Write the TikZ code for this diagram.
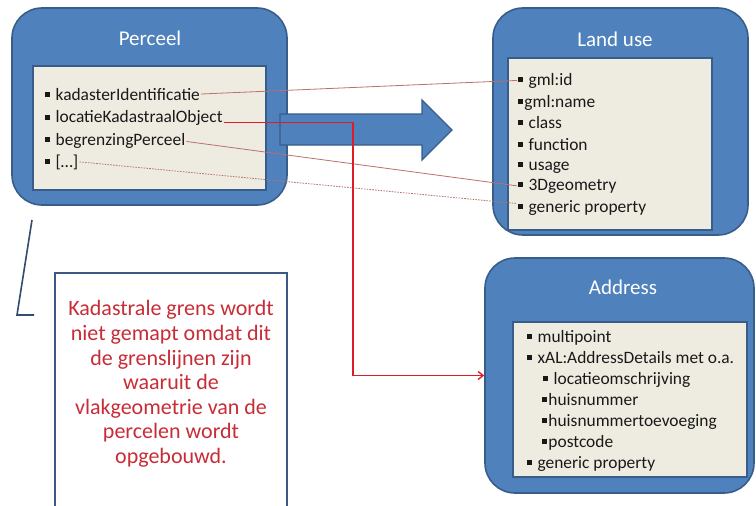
\documentclass[tikz,border=0pt]{standalone}
\usepackage{fontspec}
\setmainfont{Carlito}
\usetikzlibrary{arrows.meta,calc}

\definecolor{boxblue}{RGB}{79,129,189}
\definecolor{boxedge}{RGB}{56,93,138}
\definecolor{panel}{RGB}{238,236,225}
\definecolor{linkred}{RGB}{185,112,110}
\definecolor{strongred}{RGB}{222,28,40}
\definecolor{notered}{RGB}{200,45,55}
\definecolor{noteedge}{RGB}{60,88,132}

% small square bullet in front of every list entry
\newcommand{\sqb}{\rule[0.17em]{0.28em}{0.28em}\hspace{0.32em}}
\newcommand{\sqbtight}{\rule[0.17em]{0.28em}{0.28em}\hspace{0.08em}}

\tikzset{
  outerbox/.style={draw=boxedge, line width=1.6pt, fill=boxblue,
    rounded corners=30pt, inner sep=0pt},
  innerbox/.style={draw=boxedge, line width=1.3pt, fill=panel, inner sep=0pt},
  boxtitle/.style={text=white, font=\fontsize{21}{25}\selectfont, inner sep=0pt},
  entry/.style={anchor=base west, inner sep=1pt, text=black!90,
    font=\fontsize{17.4}{20}\selectfont},
  thinlink/.style={draw=linkred, line width=0.8pt},
  dottedlink/.style={draw=linkred, line width=0.8pt, dash pattern=on 1.6pt off 1.2pt},
  redlink/.style={draw=strongred, line width=1.4pt,
    -{Straight Barb[length=5pt,width=8pt]}},
  bigarrow/.style={draw=boxedge, line width=1.3pt, fill=boxblue},
  notebox/.style={draw=noteedge, line width=1.5pt, fill=white, inner sep=0pt},
  notetext/.style={text=notered, align=center, inner sep=0pt,
    font=\fontsize{22}{24.6}\selectfont},
  bracketline/.style={draw=noteedge!85!black, line width=1.6pt}
}

\begin{document}
\begin{tikzpicture}[x=1pt,y=-1pt]
\clip (0,0) rectangle (756,506);
\fill[white] (0,0) rectangle (756,506);

% ---- Perceel ----
\node[outerbox, minimum width=275pt, minimum height=197pt] (perceel) at (149.5,106.5) {};
\node[boxtitle] (perceeltitle) at (150,38) {Perceel};
\node[innerbox, minimum width=233pt, minimum height=124pt] (perceelpanel) at (149.5,128) {};
\node[entry] (kad) at (44,100)   {\sqb kadasterIdentificatie};
\node[entry] (loc) at (44,122.5) {\sqb locatieKadastraalObject};
\node[entry] (beg) at (44,145)   {\sqb begrenzingPerceel};
\node[entry] (etc) at (44,167)   {\sqb[\ldots]};

% ---- broad arrow from Perceel towards Land use ----
\draw[bigarrow] (280,114) -- (422,114) -- (422,100) -- (452,130)
  -- (422,160) -- (422,145) -- (280,145) -- cycle;

% ---- Land use ----
\node[outerbox, minimum width=255pt, minimum height=227pt] (landuse) at (620.5,121.5) {};
\node[boxtitle] (landusetitle) at (615,39) {Land use};
\node[innerbox, minimum width=204pt, minimum height=172pt] (landusepanel) at (610,144) {};
\node[entry] (gid)  at (517,85)  {\sqb gml:id};
\node[entry] (gnm)  at (517,107) {\sqbtight gml:name};
\node[entry] (cls)  at (517,128) {\sqb class};
\node[entry] (fun)  at (517,150) {\sqb function};
\node[entry] (usg)  at (517,170) {\sqb usage};
\node[entry] (geo)  at (517,190) {\sqb 3Dgeometry};
\node[entry] (gen)  at (517,212) {\sqb generic property};

% ---- Address ----
\node[outerbox, minimum width=269pt, minimum height=235pt] (addr) at (619.5,375.5) {};
\node[boxtitle] (addrtitle) at (623,287) {Address};
\node[innerbox, minimum width=234pt, minimum height=155pt] (addrpanel) at (630,399.5) {};
\node[entry] (mpt)  at (526,342) {\sqb multipoint};
\node[entry] (xal)  at (526,363) {\sqb xAL:AddressDetails met o.a.};
\node[entry] (lom)  at (542,384) {\sqb locatieomschrijving};
\node[entry] (hnr)  at (541,405) {\sqbtight huisnummer};
\node[entry] (hnt)  at (541,426) {\sqbtight huisnummertoevoeging};
\node[entry] (pcd)  at (541,447) {\sqbtight postcode};
\node[entry] (agen) at (526,468) {\sqb generic property};

% ---- attribute mappings ----
\coordinate (bendx) at (353,0);
\draw[thinlink] (kad.east) -- (gid.west);
\draw[thinlink] ($(beg.east)+(0,1)$) -- (geo.west);
\draw[dottedlink] (etc.east) -- ($(gen.west)+(0,-4)$);
\draw[redlink] (loc.base east) -- (loc.base east -| bendx) |- (addr.west);

% ---- remark about the cadastral boundary ----
\draw[bracketline] (32,220) -- (17,315) -- (34,315);
\node[notebox, anchor=north, minimum width=232pt, minimum height=260pt] (note) at (171,272) {};
\node[notetext] (notetxt) at (171,384) {Kadastrale grens wordt\\ niet gemapt omdat dit\\ de grenslijnen zijn\\ waaruit de\\ vlakgeometrie van de\\ percelen wordt\\ opgebouwd.};
\end{tikzpicture}
\end{document}
